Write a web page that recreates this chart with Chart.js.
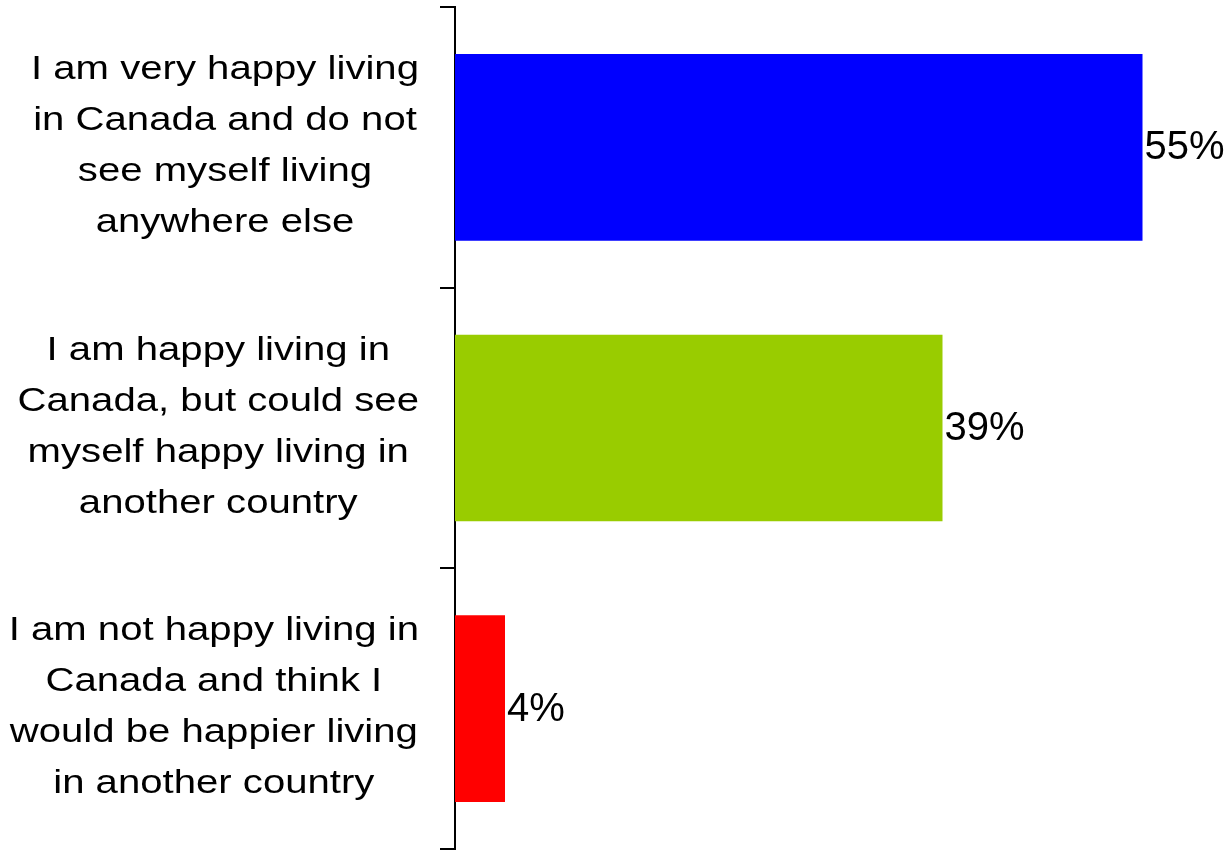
<!DOCTYPE html>
<html>
<head>
<meta charset="utf-8">
<script src="https://cdn.jsdelivr.net/npm/chart.js@4/dist/chart.umd.min.js"></script>
<style>
  html, body { margin: 0; padding: 0; background: #fff; }
  #wrap { width: 1226px; height: 850px; }
</style>
</head>
<body>
<div id="wrap"><canvas id="happyChart"></canvas></div>
<script>
// Chart data
const categories = [
    ['I am very happy living', 'in Canada and do not', 'see myself living', 'anywhere else'],
    ['I am happy living in', 'Canada, but could see', 'myself happy living in', 'another country'],
    ['I am not happy living in', 'Canada and think I', 'would be happier living', 'in another country']
];
const percents = [55, 39, 4];
const barColors = ['#0000ff', '#99cc00', '#ff0000'];

const labelFont = '34px "Liberation Sans", Arial, sans-serif';
const valueFont = '40px "Liberation Sans", Arial, sans-serif';

// Draw the multi-line category labels, each block centred and right-aligned to the axis
const categoryLabels = {
    id: 'categoryLabels',
    afterDraw(chart) {
        const ctx = chart.ctx;
        const yScale = chart.scales.y;
        const stretch = 1.18;
        const lineHeight = 51;
        const rightEdge = 419;
        ctx.save();
        ctx.font = labelFont;
        ctx.fillStyle = '#000';
        ctx.textAlign = 'center';
        ctx.textBaseline = 'alphabetic';
        categories.forEach((lines, i) => {
            const center = yScale.getPixelForValue(i);
            const blockWidth = Math.max(...lines.map(l => ctx.measureText(l).width * stretch));
            const cx = rightEdge - blockWidth / 2;
            lines.forEach((line, j) => {
                const y = center + 8 + (j - (lines.length - 1) / 2) * lineHeight;
                ctx.save();
                ctx.translate(cx, y);
                ctx.scale(stretch, 1);
                ctx.fillText(line, 0, 0);
                ctx.restore();
            });
        });
        ctx.restore();
    }
};

// Percent labels at the end of each bar
const valueLabels = {
    id: 'valueLabels',
    afterDatasetsDraw(chart) {
        const ctx = chart.ctx;
        const meta = chart.getDatasetMeta(0);
        ctx.save();
        ctx.font = valueFont;
        ctx.fillStyle = '#000';
        ctx.textAlign = 'left';
        ctx.textBaseline = 'middle';
        meta.data.forEach((bar, i) => {
            ctx.fillText(percents[i] + '%', bar.x + 2, bar.y + 1);
        });
        ctx.restore();
    }
};

const ctx = document.getElementById('happyChart').getContext('2d');
new Chart(ctx, {
    type: 'bar',
    data: {
        labels: categories,
        datasets: [{
            data: percents,
            backgroundColor: barColors,
            borderWidth: 0,
            categoryPercentage: 1,
            barPercentage: 0.665
        }]
    },
    options: {
        indexAxis: 'y',
        responsive: true,
        maintainAspectRatio: false,
        animation: false,
        layout: {
            padding: { top: 7, right: 21, bottom: 1, left: 0 }
        },
        plugins: {
            legend: { display: false },
            tooltip: { enabled: false }
        },
        scales: {
            x: {
                display: false,
                min: 0,
                max: 60
            },
            y: {
                position: 'left',
                offset: true,
                afterFit: function(scale) {
                    scale.width = 455;
                },
                ticks: { display: false },
                grid: {
                    offset: true,
                    drawOnChartArea: false,
                    drawTicks: true,
                    tickLength: 15,
                    color: '#000',
                    lineWidth: 2
                },
                border: {
                    display: true,
                    color: '#000',
                    width: 2
                }
            }
        }
    },
    plugins: [categoryLabels, valueLabels]
});
</script>
</body>
</html>
